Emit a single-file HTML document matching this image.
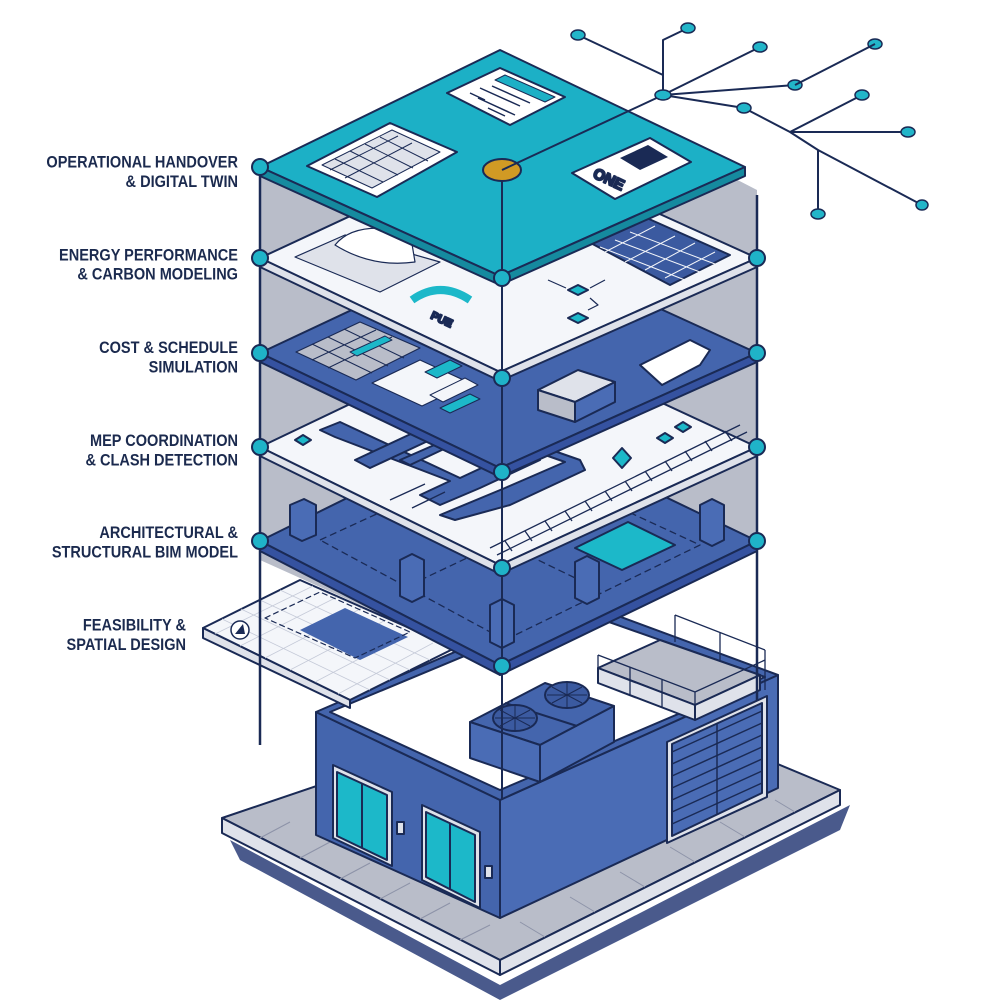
<!DOCTYPE html>
<html><head><meta charset="utf-8"><style>
html,body{margin:0;padding:0;background:#fff;width:1000px;height:1000px;overflow:hidden}
svg{display:block}
text{font-family:"Liberation Sans Narrow","Liberation Sans",sans-serif;font-weight:bold;fill:#1b2a4e}
</style></head><body>
<svg width="1000" height="1000" viewBox="0 0 1000 1000" xmlns="http://www.w3.org/2000/svg">
<g stroke="#1a2a55" stroke-width="2" stroke-linejoin="round">
<polygon points="260,170 505,60 757,190 757,545 500,668 260,560" fill="#b9bdc9" stroke="none"/>

<polygon points="230,840 500,985 850,805 840,830 500,1000 240,860" fill="#4a5a8c" stroke="none"/>
<polygon points="222,818 600,690 840,790 500,960" fill="#b9bdc9"/>
<polygon points="222,818 500,960 500,975 222,833" fill="#dfe2ea"/>
<polygon points="500,960 840,790 840,805 500,975" fill="#dfe2ea"/>
<g stroke="#8d93a8" stroke-width="1">
<line x1="260" y1="838" x2="290" y2="822"/><line x1="300" y1="858" x2="330" y2="842"/><line x1="340" y1="879" x2="370" y2="863"/><line x1="380" y1="899" x2="410" y2="883"/><line x1="420" y1="919" x2="450" y2="903"/><line x1="460" y1="940" x2="490" y2="925"/>
<line x1="545" y1="937" x2="520" y2="922"/><line x1="595" y1="912" x2="570" y2="897"/><line x1="645" y1="887" x2="620" y2="872"/><line x1="695" y1="862" x2="670" y2="847"/><line x1="745" y1="837" x2="720" y2="822"/><line x1="795" y1="812" x2="775" y2="800"/>
</g>
<polygon points="316,712 500,800 500,918 316,835" fill="#4465ad"/>
<polygon points="500,800 778,675 778,788 500,918" fill="#4a6cb5"/>
<polygon points="316,712 575,600 778,675 500,800" fill="#4465ad"/>
<polygon points="330,712 575,610 765,677 500,790" fill="#ffffff"/>
<polygon points="333,765 392,792 392,866 333,838" fill="#dfe2ea"/>
<polygon points="337,772 387,795 387,860 337,836" fill="#1cb8c9"/>
<line x1="362" y1="783" x2="362" y2="848"/>
<polygon points="422,805 480,832 480,908 422,880" fill="#dfe2ea"/>
<polygon points="426,812 475,835 475,902 426,877" fill="#1cb8c9"/>
<line x1="450" y1="823" x2="450" y2="890"/>
<rect x="397" y="822" width="7" height="12" fill="#dfe2ea"/>
<rect x="485" y="866" width="7" height="12" fill="#dfe2ea"/>
<polygon points="667,742 767,696 767,797 667,843" fill="#dfe2ea"/>
<polygon points="672,744 762,703 762,793 672,836" fill="#4a6cb5"/>
<g fill="none" stroke-width="1.5">
<path d="M672,752 L762,711 M672,764 L762,723 M672,776 L762,735 M672,788 L762,747 M672,800 L762,759 M672,812 L762,771 M672,824 L762,783"/>
<line x1="717" y1="724" x2="717" y2="815"/>
</g>
<polygon points="470,722 545,683 614,706 540,745" fill="#4465ad"/>
<polygon points="470,722 540,745 540,782 470,758" fill="#4a6cb5"/>
<polygon points="540,745 614,706 614,742 540,782" fill="#4a6cb5"/>
<line x1="505" y1="703" x2="577" y2="726"/>
<ellipse cx="515" cy="718" rx="22" ry="13" fill="#3b5aa0"/>
<ellipse cx="567" cy="695" rx="22" ry="13" fill="#3b5aa0"/>
<g stroke-width="1"><path d="M495,718 L535,718 M515,705 L515,731 M500,710 L530,726 M500,726 L530,710 M547,695 L587,695 M567,682 L567,708 M552,687 L582,703 M552,703 L582,687"/></g>
<polygon points="598,668 660,640 760,675 695,705" fill="#b9bdc9"/>
<polygon points="598,668 695,705 695,720 598,683" fill="#dfe2ea"/>
<polygon points="695,705 760,675 760,690 695,720" fill="#dfe2ea"/>
<g fill="none" stroke-width="1.3"><path d="M598,655 L695,692 L765,660 M598,655 L598,683 M630,667 L630,695 M662,680 L662,708 M695,692 L695,720 M675,615 L765,650 M675,615 L675,642 M720,632 L720,660 M765,650 L765,690"/></g>

<polygon points="203,628 300,580 455,648 350,700" fill="#f4f6fa"/>
<polygon points="203,628 350,700 350,708 203,638" fill="#dfe2ea"/>
<g stroke="#c5cad8" stroke-width="0.8" fill="none">
<path d="M222,619 L370,690 M241,609 L390,680 M260,600 L410,670 M280,590 L430,660 M215,634 L313,586 M240,646 L337,597 M265,658 L362,608 M290,670 L386,620 M315,682 L410,632 M338,694 L433,643"/>
</g>
<polygon points="300,630 345,608 408,637 360,660" fill="#4465ad" stroke="none"/>
<polygon points="265,618 320,592 410,632 355,658" fill="none" stroke-dasharray="6,3" stroke-width="1.2"/>
<circle cx="240" cy="630" r="9" fill="#fff" stroke-width="1.5"/>
<polygon points="235,634 243,624 245,634" fill="#1a2a55" stroke="none"/>

<line x1="260" y1="167" x2="260" y2="745" stroke-width="2.5"/>
<line x1="757" y1="195" x2="757" y2="700" stroke-width="2.5"/>

<polygon points="260,541 505,420 757,541 500,665" fill="#4465ad"/>
<polygon points="260,541 500,665 500,675 260,551" fill="#3552a0"/>
<polygon points="500,665 757,541 757,551 500,675" fill="#3552a0"/>
<g fill="none" stroke-dasharray="7,4" stroke-width="1.3">
<path d="M320,540 L505,455 L700,545 L505,640 Z M410,585 L600,495 M410,498 L600,590"/>
</g>
<polygon points="575,548 628,522 675,545 622,570" fill="#1cb8c9"/>
<polygon points="290,505 304,499 316,505 316,535 302,541 290,535" fill="#4a6cb5"/>
<polygon points="400,560 412,554 424,560 424,596 412,602 400,596" fill="#4a6cb5"/>
<polygon points="490,605 502,599 514,605 514,642 502,648 490,642" fill="#4a6cb5"/>
<polygon points="575,562 587,556 599,562 599,598 587,604 575,598" fill="#4a6cb5"/>
<polygon points="700,505 712,499 724,505 724,540 712,546 700,540" fill="#4a6cb5"/>

<polygon points="260,447 505,330 757,447 500,565" fill="#f4f6fa"/>
<polygon points="260,447 500,565 500,574 260,456" fill="#dfe2ea"/>
<polygon points="500,565 757,447 757,456 500,574" fill="#dfe2ea"/>
<path d="M320,430 L340,422 L460,478 L520,450 L540,460 L480,488 L440,505 L420,495 L450,481 L335,437 Z" fill="#4465ad"/>
<path d="M355,460 L415,432 L430,440 L370,468 Z" fill="#4465ad"/>
<path d="M400,460 L480,425 L580,460 L585,470 L510,505 L455,520 L440,515 L505,488 L565,462 L480,432 L410,465 Z" fill="#4465ad"/>
<g fill="none" stroke-width="1.3">
<path d="M490,548 L740,425 M497,555 L747,432"/>
<path d="M505,541 L512,551 M525,531 L532,541 M545,521 L552,531 M565,511 L572,521 M585,501 L592,511 M605,491 L612,501 M625,481 L632,491 M645,471 L652,481 M665,461 L672,471 M685,451 L692,461 M705,441 L712,451 M725,431 L732,441"/>
<path d="M390,500 L425,484 M412,508 L445,492"/>
</g>
<polygon points="613,458 622,448 631,458 622,468" fill="#1cb8c9"/>
<polygon points="295,440 303,435 311,440 303,445" fill="#1cb8c9"/>
<polygon points="657,438 665,433 673,438 665,443" fill="#1cb8c9"/>
<polygon points="675,427 683,422 691,427 683,432" fill="#1cb8c9"/>

<polygon points="260,353 505,238 757,353 500,468" fill="#4465ad"/>
<polygon points="260,353 500,468 500,477 260,362" fill="#3552a0"/>
<polygon points="500,468 757,353 757,362 500,477" fill="#3552a0"/>
<polygon points="296,352 360,322 420,348 356,380" fill="#b9bdc9" stroke-width="1.2"/>
<g fill="none" stroke-width="1" stroke="#1a2a55"><path d="M312,344 L372,373 M328,337 L388,366 M344,329 L404,358 M312,360 L376,330 M328,368 L392,337"/></g>
<polygon points="350,352 385,336 392,340 357,356" fill="#1cb8c9" stroke-width="1"/>
<polygon points="372,383 420,360 470,383 422,406" fill="#f4f6fa" stroke-width="1.2"/>
<polygon points="425,372 450,360 462,366 437,378" fill="#1cb8c9" stroke-width="1"/>
<polygon points="430,395 465,378 478,385 443,402" fill="#f4f6fa" stroke-width="1"/>
<polygon points="440,408 470,394 480,399 450,413" fill="#1cb8c9" stroke-width="1"/>
<polygon points="538,390 578,370 615,382 575,402" fill="#dfe2ea"/>
<polygon points="538,390 575,402 575,422 538,410" fill="#b9bdc9"/>
<polygon points="575,402 615,382 615,402 575,422" fill="#4a6cb5"/>
<polygon points="640,365 690,340 710,350 700,365 662,385" fill="#fff"/>

<polygon points="260,258 505,144 757,258 500,372" fill="#f4f6fa"/>
<polygon points="260,258 500,372 500,381 260,267" fill="#dfe2ea"/>
<polygon points="500,372 757,258 757,267 500,381" fill="#dfe2ea"/>
<polygon points="295,257 345,235 440,262 380,292" fill="#dfe2ea" stroke-width="1.2"/>
<path d="M335,245 Q355,220 410,232 L415,262 Q372,268 335,245 Z" fill="#fff" stroke-width="1.2"/>
<polygon points="585,240 640,215 730,255 670,285" fill="#3b5aa0"/>
<g stroke="#f4f6fa" stroke-width="1"><path d="M600,247 L685,280 M615,240 L700,272 M630,232 L715,264 M605,252 L655,226 M625,262 L675,236 M645,270 L695,243 M665,278 L715,252"/></g>
<path d="M412,300 Q440,280 470,300" fill="none" stroke-width="8" stroke="#1cb8c9"/>
<text x="430" y="318" font-size="11" transform="rotate(25 430 318)">PUE</text>
<polygon points="568,290 578,285 588,290 578,295" fill="#1cb8c9"/>
<polygon points="568,318 578,313 588,318 578,323" fill="#1cb8c9"/>
<path d="M548,280 L566,288 M590,288 L605,280 M590,298 L598,305 L588,310" fill="none" stroke-width="1.2"/>

<polygon points="260,167 500,50 745,167 500,276" fill="#1cb0c6"/>
<polygon points="260,167 500,276 500,285 260,176" fill="#158a9f"/>
<polygon points="500,276 745,167 745,176 500,285" fill="#158a9f"/>
<polygon points="307,166 390,123 457,152 377,197" fill="#fff"/>
<polygon points="322,165 392,130 440,152 372,188" fill="#dfe2ea" stroke-width="1"/>
<g stroke-width="1" fill="none"><path d="M335,159 L383,182 M350,151 L398,175 M365,144 L413,168 M380,137 L428,161 M330,170 L398,136 M345,178 L412,143"/></g>
<polygon points="447,93 500,68 565,97 510,125" fill="#fff"/>
<polygon points="495,80 505,75 555,97 545,102" fill="#1cb0c6" stroke-width="1"/>
<g stroke-width="1.5"><path d="M470,93 L485,100 M480,88 L520,106 M478,98 L515,115 M488,108 L505,116 M492,86 L530,103"/></g>
<polygon points="572,173 650,138 691,162 615,199" fill="#fff"/>
<g fill="#1a2a55" stroke="none"><polygon points="620,158 648,145 668,157 640,170"/></g>
<text x="592" y="177" font-size="15" transform="rotate(25 592 177)">ONE</text>
<ellipse cx="502" cy="170" rx="19" ry="11" fill="#d19a24"/>
<line x1="502" y1="181" x2="502" y2="800" stroke-width="2"/>

<g fill="none" stroke-width="2">
<path d="M502,170 L663,95 L663,40 L688,28 M663,75 L578,35 M663,95 L760,47 M663,95 L795,85 M663,95 L744,108 L790,132 L862,95 M790,132 L908,132 M790,132 L818,150 L818,214 M818,150 L922,205"/>
</g>
<g fill="#22b5c9" stroke-width="1.5">
<ellipse cx="663" cy="95" rx="8" ry="5"/><ellipse cx="578" cy="35" rx="7" ry="5"/><ellipse cx="688" cy="28" rx="7" ry="5"/><ellipse cx="760" cy="47" rx="7" ry="5"/><ellipse cx="875" cy="44" rx="7" ry="5"/><ellipse cx="795" cy="85" rx="7" ry="5"/><ellipse cx="862" cy="95" rx="7" ry="5"/><ellipse cx="744" cy="108" rx="7" ry="5"/><ellipse cx="908" cy="132" rx="7" ry="5"/><ellipse cx="818" cy="214" rx="7" ry="5"/><ellipse cx="922" cy="205" rx="6" ry="5"/>
</g>
<line x1="795" y1="85" x2="875" y2="44" stroke-width="2"/>

<g fill="#1fb3c8" stroke-width="2">
<circle cx="260" cy="167" r="8"/><circle cx="260" cy="258" r="8"/><circle cx="260" cy="353" r="8"/><circle cx="260" cy="447" r="8"/><circle cx="260" cy="541" r="8"/>
<circle cx="757" cy="258" r="8"/><circle cx="757" cy="353" r="8"/><circle cx="757" cy="447" r="8"/><circle cx="757" cy="541" r="8"/>
<circle cx="502" cy="278" r="8"/><circle cx="502" cy="378" r="8"/><circle cx="502" cy="472" r="8"/><circle cx="502" cy="568" r="8"/><circle cx="502" cy="666" r="8"/>
</g>
</g>

<g font-size="15" text-anchor="end">
<g transform="translate(238,0) scale(0.97,1.08) translate(-238,0)">
<text x="238" y="155">OPERATIONAL HANDOVER</text><text x="238" y="173">&amp; DIGITAL TWIN</text>
<text x="238" y="241">ENERGY PERFORMANCE</text><text x="238" y="259">&amp; CARBON MODELING</text>
<text x="238" y="327">COST &amp; SCHEDULE</text><text x="238" y="345">SIMULATION</text>
<text x="238" y="413">MEP COORDINATION</text><text x="238" y="431">&amp; CLASH DETECTION</text>
<text x="238" y="498">ARCHITECTURAL &amp;</text><text x="238" y="516">STRUCTURAL BIM MODEL</text>
</g>
<g transform="translate(186,0) scale(0.97,1.08) translate(-186,0)">
<text x="186" y="584">FEASIBILITY &amp;</text><text x="186" y="602">SPATIAL DESIGN</text>
</g>
</g>
</svg>
</body></html>
